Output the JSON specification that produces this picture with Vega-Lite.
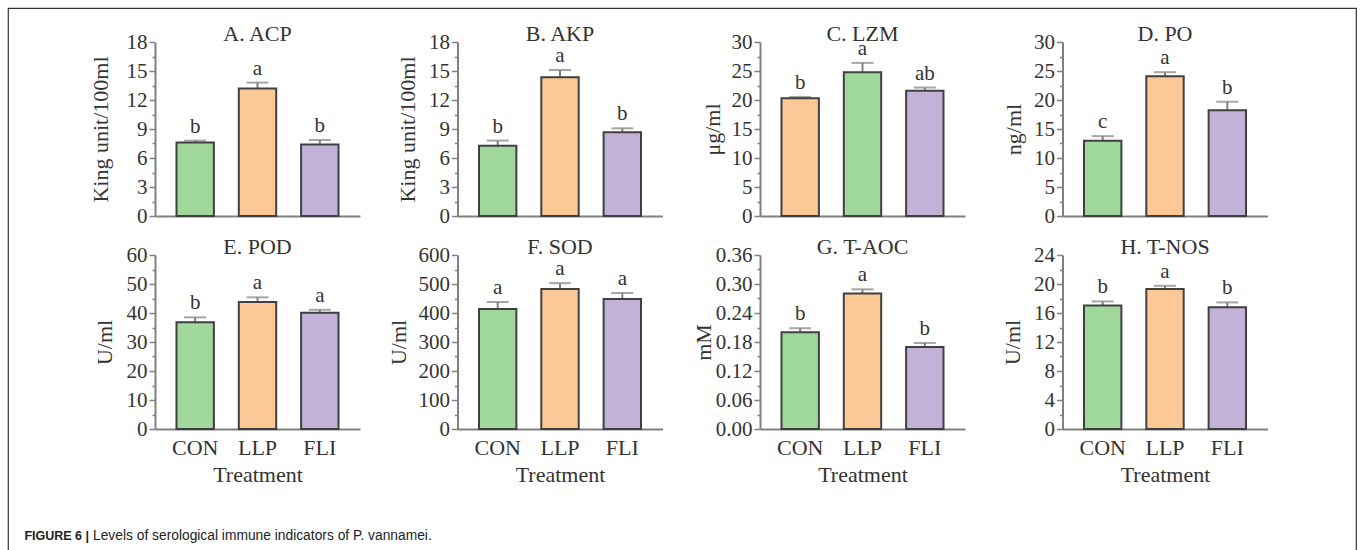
{
  "$schema": "https://vega.github.io/schema/vega-lite/v6.json",
  "background": "white",
  "padding": {"left": 7, "top": 7, "right": 0, "bottom": 0},
  "config": {
    "view": {"stroke": null},
    "axis": {"domainColor": "#808080", "domainWidth": 2, "tickColor": "#808080", "tickWidth": 1.5, "tickSize": 6, "labelFont": "Liberation Serif", "labelFontSize": 21, "labelColor": "#333", "titleFont": "Liberation Serif", "titleFontSize": 22, "titleColor": "#333", "titleFontWeight": "normal", "grid": false, "labelPadding": 2, "labelOverlap": false},
    "axisX": {"labelAngle": 0, "labelPadding": 8, "titlePadding": 6, "labelFontSize": 22},
    "title": {"font": "Liberation Serif", "fontSize": 22, "fontWeight": "normal", "color": "#333", "offset": -15, "baseline": "alphabetic"}
  },
  "data": {"values": [
    {"panel": "A", "treatment": "CON", "value": 7.6, "upper": 7.8, "letter": "b"},
    {"panel": "A", "treatment": "LLP", "value": 13.2, "upper": 13.8, "letter": "a"},
    {"panel": "A", "treatment": "FLI", "value": 7.4, "upper": 7.86, "letter": "b"},
    {"panel": "B", "treatment": "CON", "value": 7.27, "upper": 7.8, "letter": "b"},
    {"panel": "B", "treatment": "LLP", "value": 14.35, "upper": 15.1, "letter": "a"},
    {"panel": "B", "treatment": "FLI", "value": 8.66, "upper": 9.07, "letter": "b"},
    {"panel": "C", "treatment": "CON", "value": 20.3, "upper": 20.5, "letter": "b"},
    {"panel": "C", "treatment": "LLP", "value": 24.8, "upper": 26.4, "letter": "a"},
    {"panel": "C", "treatment": "FLI", "value": 21.6, "upper": 22.15, "letter": "ab"},
    {"panel": "D", "treatment": "CON", "value": 12.96, "upper": 13.77, "letter": "c"},
    {"panel": "D", "treatment": "LLP", "value": 24.1, "upper": 24.8, "letter": "a"},
    {"panel": "D", "treatment": "FLI", "value": 18.25, "upper": 19.7, "letter": "b"},
    {"panel": "E", "treatment": "CON", "value": 36.8, "upper": 38.5, "letter": "b"},
    {"panel": "E", "treatment": "LLP", "value": 43.8, "upper": 45.4, "letter": "a"},
    {"panel": "E", "treatment": "FLI", "value": 40.1, "upper": 41.1, "letter": "a"},
    {"panel": "F", "treatment": "CON", "value": 414, "upper": 438, "letter": "a"},
    {"panel": "F", "treatment": "LLP", "value": 483, "upper": 503, "letter": "a"},
    {"panel": "F", "treatment": "FLI", "value": 448, "upper": 469, "letter": "a"},
    {"panel": "G", "treatment": "CON", "value": 0.2, "upper": 0.2085, "letter": "b"},
    {"panel": "G", "treatment": "LLP", "value": 0.2805, "upper": 0.289, "letter": "a"},
    {"panel": "G", "treatment": "FLI", "value": 0.1694, "upper": 0.178, "letter": "b"},
    {"panel": "H", "treatment": "CON", "value": 17.05, "upper": 17.6, "letter": "b"},
    {"panel": "H", "treatment": "LLP", "value": 19.3, "upper": 19.75, "letter": "a"},
    {"panel": "H", "treatment": "FLI", "value": 16.8, "upper": 17.46, "letter": "b"}
  ]},
  "title": {"text": "FIGURE 6 |", "orient": "bottom", "anchor": "start", "frame": "bounds", "baseline": "top", "offset": -39, "dx": 17, "font": "Liberation Sans", "fontSize": 12.5, "fontWeight": "bold", "color": "#222"},
  "columns": 1,
  "align": "none",
  "spacing": -546,
  "concat": [
    {
      "width": 1348, "height": 560,
      "view": {"stroke": "#333", "strokeWidth": 1.2},
      "data": {"values": [{"frame": 1}]},
      "title": {"text": "Levels of serological immune indicators of P. vannamei.", "orient": "bottom", "anchor": "start", "frame": "bounds", "baseline": "top", "offset": -39, "dx": 85, "font": "Liberation Sans", "fontSize": 13.8, "fontWeight": "normal", "color": "#222"},
      "mark": {"type": "point", "opacity": 0, "size": 0},
      "encoding": {}
    },
    {
      "spacing": 80,
      "hconcat": [
        {"width": 1, "height": 10, "data": {"values": [{"spacer": 1}]}, "mark": {"type": "point", "opacity": 0, "size": 0}, "encoding": {}},
        {
          "columns": 4,
          "bounds": "flush",
          "spacing": {"row": 39, "column": 97.5},
          "resolve": {"scale": {"x": "independent", "y": "independent", "color": "independent"}},
          "concat": [
            {
              "width": 205, "height": 174, "title": "A. ACP",
              "transform": [{"filter": "datum.panel === 'A'"}],
              "resolve": {"axis": {"y": "independent"}},
              "encoding": {"x": {"field": "treatment", "type": "nominal", "sort": ["CON", "LLP", "FLI"], "scale": {"paddingInner": 0.4, "paddingOuter": 0.345}, "axis": {"labels": false, "ticks": false, "title": null}}},
              "layer": [
                {"mark": {"type": "rule", "color": "#808080", "strokeWidth": 2}, "encoding": {"y": {"field": "value", "type": "quantitative", "scale": {"domain": [0, 18], "nice": false}, "axis": {"orient": "left", "title": "King unit/100ml", "titlePadding": 14, "values": [0, 3, 6, 9, 12, 15, 18]}}, "y2": {"field": "upper"}}},
                {"mark": {"type": "tick", "color": "#808080", "thickness": 2, "size": 22}, "encoding": {"y": {"field": "upper", "type": "quantitative", "axis": {"orient": "left", "title": null, "labels": false, "domain": false, "tickSize": 3, "values": [1.5, 4.5, 7.5, 10.5, 13.5, 16.5]}}}},
                {"mark": {"type": "bar", "stroke": "#404040", "strokeWidth": 2}, "encoding": {"y": {"field": "value", "type": "quantitative", "axis": null}, "color": {"field": "treatment", "type": "nominal", "scale": {"domain": ["CON", "LLP", "FLI"], "range": ["#9FD89A", "#FCC896", "#C3B2D8"]}, "legend": null}}},
                {"mark": {"type": "text", "baseline": "bottom", "dy": -4, "font": "Liberation Serif", "fontSize": 21, "color": "#333"}, "encoding": {"y": {"field": "upper", "type": "quantitative", "axis": null}, "text": {"field": "letter"}}}
              ]
            },
            {
              "width": 205, "height": 174, "title": "B. AKP",
              "transform": [{"filter": "datum.panel === 'B'"}],
              "resolve": {"axis": {"y": "independent"}},
              "encoding": {"x": {"field": "treatment", "type": "nominal", "sort": ["CON", "LLP", "FLI"], "scale": {"paddingInner": 0.4, "paddingOuter": 0.345}, "axis": {"labels": false, "ticks": false, "title": null}}},
              "layer": [
                {"mark": {"type": "rule", "color": "#808080", "strokeWidth": 2}, "encoding": {"y": {"field": "value", "type": "quantitative", "scale": {"domain": [0, 18], "nice": false}, "axis": {"orient": "left", "title": "King unit/100ml", "titlePadding": 9, "values": [0, 3, 6, 9, 12, 15, 18]}}, "y2": {"field": "upper"}}},
                {"mark": {"type": "tick", "color": "#808080", "thickness": 2, "size": 22}, "encoding": {"y": {"field": "upper", "type": "quantitative", "axis": {"orient": "left", "title": null, "labels": false, "domain": false, "tickSize": 3, "values": [1.5, 4.5, 7.5, 10.5, 13.5, 16.5]}}}},
                {"mark": {"type": "bar", "stroke": "#404040", "strokeWidth": 2}, "encoding": {"y": {"field": "value", "type": "quantitative", "axis": null}, "color": {"field": "treatment", "type": "nominal", "scale": {"domain": ["CON", "LLP", "FLI"], "range": ["#9FD89A", "#FCC896", "#C3B2D8"]}, "legend": null}}},
                {"mark": {"type": "text", "baseline": "bottom", "dy": -4, "font": "Liberation Serif", "fontSize": 21, "color": "#333"}, "encoding": {"y": {"field": "upper", "type": "quantitative", "axis": null}, "text": {"field": "letter"}}}
              ]
            },
            {
              "width": 205, "height": 174, "title": "C. LZM",
              "transform": [{"filter": "datum.panel === 'C'"}],
              "resolve": {"axis": {"y": "independent"}},
              "encoding": {"x": {"field": "treatment", "type": "nominal", "sort": ["CON", "LLP", "FLI"], "scale": {"paddingInner": 0.4, "paddingOuter": 0.345}, "axis": {"labels": false, "ticks": false, "title": null}}},
              "layer": [
                {"mark": {"type": "rule", "color": "#808080", "strokeWidth": 2}, "encoding": {"y": {"field": "value", "type": "quantitative", "scale": {"domain": [0, 30], "nice": false}, "axis": {"orient": "left", "title": "μg/ml", "titlePadding": 7, "values": [0, 5, 10, 15, 20, 25, 30]}}, "y2": {"field": "upper"}}},
                {"mark": {"type": "tick", "color": "#808080", "thickness": 2, "size": 22}, "encoding": {"y": {"field": "upper", "type": "quantitative", "axis": {"orient": "left", "title": null, "labels": false, "domain": false, "tickSize": 3, "values": [2.5, 7.5, 12.5, 17.5, 22.5, 27.5]}}}},
                {"mark": {"type": "bar", "stroke": "#404040", "strokeWidth": 2}, "encoding": {"y": {"field": "value", "type": "quantitative", "axis": null}, "color": {"field": "treatment", "type": "nominal", "scale": {"domain": ["CON", "LLP", "FLI"], "range": ["#FCC896", "#9FD89A", "#C3B2D8"]}, "legend": null}}},
                {"mark": {"type": "text", "baseline": "bottom", "dy": -4, "font": "Liberation Serif", "fontSize": 21, "color": "#333"}, "encoding": {"y": {"field": "upper", "type": "quantitative", "axis": null}, "text": {"field": "letter"}}}
              ]
            },
            {
              "width": 205, "height": 174, "title": "D. PO",
              "transform": [{"filter": "datum.panel === 'D'"}],
              "resolve": {"axis": {"y": "independent"}},
              "encoding": {"x": {"field": "treatment", "type": "nominal", "sort": ["CON", "LLP", "FLI"], "scale": {"paddingInner": 0.4, "paddingOuter": 0.345}, "axis": {"labels": false, "ticks": false, "title": null}}},
              "layer": [
                {"mark": {"type": "rule", "color": "#808080", "strokeWidth": 2}, "encoding": {"y": {"field": "value", "type": "quantitative", "scale": {"domain": [0, 30], "nice": false}, "axis": {"orient": "left", "title": "ng/ml", "titlePadding": 8, "values": [0, 5, 10, 15, 20, 25, 30]}}, "y2": {"field": "upper"}}},
                {"mark": {"type": "tick", "color": "#808080", "thickness": 2, "size": 22}, "encoding": {"y": {"field": "upper", "type": "quantitative", "axis": {"orient": "left", "title": null, "labels": false, "domain": false, "tickSize": 3, "values": [2.5, 7.5, 12.5, 17.5, 22.5, 27.5]}}}},
                {"mark": {"type": "bar", "stroke": "#404040", "strokeWidth": 2}, "encoding": {"y": {"field": "value", "type": "quantitative", "axis": null}, "color": {"field": "treatment", "type": "nominal", "scale": {"domain": ["CON", "LLP", "FLI"], "range": ["#9FD89A", "#FCC896", "#C3B2D8"]}, "legend": null}}},
                {"mark": {"type": "text", "baseline": "bottom", "dy": -4, "font": "Liberation Serif", "fontSize": 21, "color": "#333"}, "encoding": {"y": {"field": "upper", "type": "quantitative", "axis": null}, "text": {"field": "letter"}}}
              ]
            },
            {
              "width": 205, "height": 174, "title": "E. POD",
              "transform": [{"filter": "datum.panel === 'E'"}],
              "resolve": {"axis": {"y": "independent"}},
              "encoding": {"x": {"field": "treatment", "type": "nominal", "sort": ["CON", "LLP", "FLI"], "scale": {"paddingInner": 0.4, "paddingOuter": 0.345}, "axis": {"ticks": false, "title": "Treatment"}}},
              "layer": [
                {"mark": {"type": "rule", "color": "#808080", "strokeWidth": 2}, "encoding": {"y": {"field": "value", "type": "quantitative", "scale": {"domain": [0, 60], "nice": false}, "axis": {"orient": "left", "title": "U/ml", "titlePadding": 10, "values": [0, 10, 20, 30, 40, 50, 60]}}, "y2": {"field": "upper"}}},
                {"mark": {"type": "tick", "color": "#808080", "thickness": 2, "size": 22}, "encoding": {"y": {"field": "upper", "type": "quantitative", "axis": {"orient": "left", "title": null, "labels": false, "domain": false, "tickSize": 3, "values": [5, 15, 25, 35, 45, 55]}}}},
                {"mark": {"type": "bar", "stroke": "#404040", "strokeWidth": 2}, "encoding": {"y": {"field": "value", "type": "quantitative", "axis": null}, "color": {"field": "treatment", "type": "nominal", "scale": {"domain": ["CON", "LLP", "FLI"], "range": ["#9FD89A", "#FCC896", "#C3B2D8"]}, "legend": null}}},
                {"mark": {"type": "text", "baseline": "bottom", "dy": -4, "font": "Liberation Serif", "fontSize": 21, "color": "#333"}, "encoding": {"y": {"field": "upper", "type": "quantitative", "axis": null}, "text": {"field": "letter"}}}
              ]
            },
            {
              "width": 205, "height": 174, "title": "F. SOD",
              "transform": [{"filter": "datum.panel === 'F'"}],
              "resolve": {"axis": {"y": "independent"}},
              "encoding": {"x": {"field": "treatment", "type": "nominal", "sort": ["CON", "LLP", "FLI"], "scale": {"paddingInner": 0.4, "paddingOuter": 0.345}, "axis": {"ticks": false, "title": "Treatment"}}},
              "layer": [
                {"mark": {"type": "rule", "color": "#808080", "strokeWidth": 2}, "encoding": {"y": {"field": "value", "type": "quantitative", "scale": {"domain": [0, 600], "nice": false}, "axis": {"orient": "left", "title": "U/ml", "titlePadding": 8, "values": [0, 100, 200, 300, 400, 500, 600]}}, "y2": {"field": "upper"}}},
                {"mark": {"type": "tick", "color": "#808080", "thickness": 2, "size": 22}, "encoding": {"y": {"field": "upper", "type": "quantitative", "axis": {"orient": "left", "title": null, "labels": false, "domain": false, "tickSize": 3, "values": [50, 150, 250, 350, 450, 550]}}}},
                {"mark": {"type": "bar", "stroke": "#404040", "strokeWidth": 2}, "encoding": {"y": {"field": "value", "type": "quantitative", "axis": null}, "color": {"field": "treatment", "type": "nominal", "scale": {"domain": ["CON", "LLP", "FLI"], "range": ["#9FD89A", "#FCC896", "#C3B2D8"]}, "legend": null}}},
                {"mark": {"type": "text", "baseline": "bottom", "dy": -4, "font": "Liberation Serif", "fontSize": 21, "color": "#333"}, "encoding": {"y": {"field": "upper", "type": "quantitative", "axis": null}, "text": {"field": "letter"}}}
              ]
            },
            {
              "width": 205, "height": 174, "title": "G. T-AOC",
              "transform": [{"filter": "datum.panel === 'G'"}],
              "resolve": {"axis": {"y": "independent"}},
              "encoding": {"x": {"field": "treatment", "type": "nominal", "sort": ["CON", "LLP", "FLI"], "scale": {"paddingInner": 0.4, "paddingOuter": 0.345}, "axis": {"ticks": false, "title": "Treatment"}}},
              "layer": [
                {"mark": {"type": "rule", "color": "#808080", "strokeWidth": 2}, "encoding": {"y": {"field": "value", "type": "quantitative", "scale": {"domain": [0, 0.36], "nice": false}, "axis": {"orient": "left", "title": "mM", "titlePadding": 0, "format": ".2f", "values": [0, 0.06, 0.12, 0.18, 0.24, 0.3, 0.36]}}, "y2": {"field": "upper"}}},
                {"mark": {"type": "tick", "color": "#808080", "thickness": 2, "size": 22}, "encoding": {"y": {"field": "upper", "type": "quantitative", "axis": {"orient": "left", "title": null, "labels": false, "domain": false, "tickSize": 3, "values": [0.03, 0.09, 0.15, 0.21, 0.27, 0.33]}}}},
                {"mark": {"type": "bar", "stroke": "#404040", "strokeWidth": 2}, "encoding": {"y": {"field": "value", "type": "quantitative", "axis": null}, "color": {"field": "treatment", "type": "nominal", "scale": {"domain": ["CON", "LLP", "FLI"], "range": ["#9FD89A", "#FCC896", "#C3B2D8"]}, "legend": null}}},
                {"mark": {"type": "text", "baseline": "bottom", "dy": -4, "font": "Liberation Serif", "fontSize": 21, "color": "#333"}, "encoding": {"y": {"field": "upper", "type": "quantitative", "axis": null}, "text": {"field": "letter"}}}
              ]
            },
            {
              "width": 205, "height": 174, "title": "H. T-NOS",
              "transform": [{"filter": "datum.panel === 'H'"}],
              "resolve": {"axis": {"y": "independent"}},
              "encoding": {"x": {"field": "treatment", "type": "nominal", "sort": ["CON", "LLP", "FLI"], "scale": {"paddingInner": 0.4, "paddingOuter": 0.345}, "axis": {"ticks": false, "title": "Treatment"}}},
              "layer": [
                {"mark": {"type": "rule", "color": "#808080", "strokeWidth": 2}, "encoding": {"y": {"field": "value", "type": "quantitative", "scale": {"domain": [0, 24], "nice": false}, "axis": {"orient": "left", "title": "U/ml", "titlePadding": 9, "values": [0, 4, 8, 12, 16, 20, 24]}}, "y2": {"field": "upper"}}},
                {"mark": {"type": "tick", "color": "#808080", "thickness": 2, "size": 22}, "encoding": {"y": {"field": "upper", "type": "quantitative", "axis": {"orient": "left", "title": null, "labels": false, "domain": false, "tickSize": 3, "values": [2, 6, 10, 14, 18, 22]}}}},
                {"mark": {"type": "bar", "stroke": "#404040", "strokeWidth": 2}, "encoding": {"y": {"field": "value", "type": "quantitative", "axis": null}, "color": {"field": "treatment", "type": "nominal", "scale": {"domain": ["CON", "LLP", "FLI"], "range": ["#9FD89A", "#FCC896", "#C3B2D8"]}, "legend": null}}},
                {"mark": {"type": "text", "baseline": "bottom", "dy": -4, "font": "Liberation Serif", "fontSize": 21, "color": "#333"}, "encoding": {"y": {"field": "upper", "type": "quantitative", "axis": null}, "text": {"field": "letter"}}}
              ]
            }
          ]
        }
      ]
    }
  ]
}
